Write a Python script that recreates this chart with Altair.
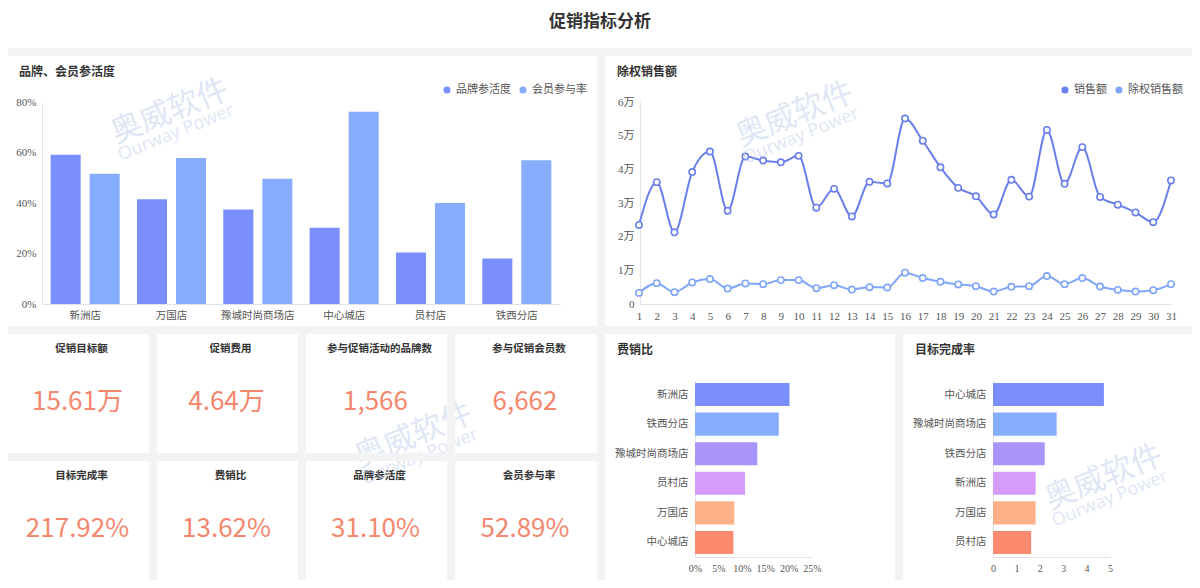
import altair as alt
import pandas as pd

# ---------------- data ----------------
stores = ["新洲店", "万国店", "豫城时尚商场店", "中心城店", "员村店", "铁西分店"]
brand_activity = [0.591, 0.415, 0.374, 0.302, 0.204, 0.180]
member_rate = [0.516, 0.578, 0.496, 0.761, 0.400, 0.569]
bar_series = ["品牌参活度", "会员参与率"]
bar_colors = ["#7a8ffb", "#86adfc"]

days = list(range(1, 32))
sales_wan = [2.35, 3.62, 2.13, 3.92, 4.53, 2.77, 4.38, 4.26, 4.21, 4.40,
             2.86, 3.42, 2.60, 3.63, 3.58, 5.51, 4.85, 4.06, 3.45, 3.20,
             2.66, 3.69, 3.19, 5.17, 3.57, 4.66, 3.18, 2.95, 2.72, 2.43, 3.67]
adj_sales_wan = [0.33, 0.62, 0.35, 0.64, 0.74, 0.46, 0.61, 0.59, 0.71, 0.71,
                 0.47, 0.56, 0.43, 0.50, 0.49, 0.93, 0.77, 0.66, 0.58, 0.53,
                 0.37, 0.51, 0.53, 0.83, 0.59, 0.77, 0.52, 0.42, 0.37, 0.41, 0.59]
line_series = ["销售额", "除权销售额"]
line_colors = ["#6a7fea", "#7fa6f7"]

cost_stores = ["新洲店", "铁西分店", "豫城时尚商场店", "员村店", "万国店", "中心城店"]
cost_ratio = [0.202, 0.179, 0.133, 0.107, 0.084, 0.082]
target_stores = ["中心城店", "豫城时尚商场店", "铁西分店", "新洲店", "万国店", "员村店"]
target_rate = [4.74, 2.72, 2.21, 1.82, 1.82, 1.63]
rank_colors = ["#7b8ffb", "#86adfc", "#a995f9", "#d69cf8", "#fdb189", "#fd8a6f"]

kpi_titles = ["促销目标额", "促销费用", "参与促销活动的品牌数", "参与促销会员数",
              "目标完成率", "费销比", "品牌参活度", "会员参与率"]
kpi_values = ["15.61万", "4.64万", "1,566", "6,662",
              "217.92%", "13.62%", "31.10%", "52.89%"]

main_title = "促销指标分析"
panel_titles = ["品牌、会员参活度", "除权销售额", "费销比", "目标完成率"]
watermark_cn = "奥威软件"
watermark_en = "Ourway Power"

# ---------------- style ----------------
CJK = "'Noto Sans CJK SC', sans-serif"
SERIF = "'Liberation Serif', 'Noto Sans CJK SC', serif"
VALUE_FONT = "'Noto Sans CJK SC', sans-serif"
WM_FONT = "'Open Sans', 'Noto Sans CJK SC', sans-serif"
BG = "#f3f3f3"
LABEL = "#555555"
DOMAIN = "#e0e3e8"
WM_COLOR = "#b9c9ea"

W_L, W_R = 589, 587
H_TOP, H_BOT = 270, 246
W_M, W_RR = 290, 289


def ax(**kw):
    base = dict(title=None, grid=False, ticks=False, domainColor=DOMAIN, domainWidth=1,
                labelColor=LABEL, labelFontSize=11, labelPadding=6)
    base.update(kw)
    return alt.Axis(**base)


def title_layer(text, x=12, y=16):
    return alt.Chart(pd.DataFrame({"t": [text]})).mark_text(
        align="left", baseline="middle", font=CJK, fontSize=12, fontWeight="bold", color="#333333"
    ).encode(x=alt.value(x), y=alt.value(y), text="t:N")


def watermark_layers(cx, cy, ox, oy):
    """Faint rotated watermark; (cx, cy) page position, (ox, oy) panel origin."""
    df = pd.DataFrame({"cn": [watermark_cn], "en": [watermark_en]})
    cn = alt.Chart(df).mark_text(font=CJK, fontSize=31, angle=338, color=WM_COLOR, opacity=0.45,
                                 align="center", baseline="middle", clip=True).encode(
        x=alt.value(cx - ox), y=alt.value(cy - oy), text="cn:N")
    en = alt.Chart(df).mark_text(font=WM_FONT, fontSize=18, angle=338, color=WM_COLOR, opacity=0.45,
                                 align="center", baseline="middle", clip=True).encode(
        x=alt.value(cx + 6 - ox), y=alt.value(cy + 21 - oy), text="en:N")
    return [cn, en]


def legend_layers(names, colors, x_range, y):
    df = pd.DataFrame({"name": names, "c": colors})
    xs = alt.X("name:N", sort=names, scale=alt.Scale(domain=names, range=x_range, padding=0), axis=None)
    dots = alt.Chart(df).mark_circle(size=50, opacity=1).encode(
        x=xs, y=alt.value(y), color=alt.Color("c:N", scale=None))
    labels = alt.Chart(df).mark_text(align="left", baseline="middle", dx=9, font=CJK,
                                     fontSize=11, color=LABEL).encode(
        x=xs, y=alt.value(y), text="name:N")
    return [dots, labels]


# ---- panel 1: grouped bars ----
bar_df = pd.DataFrame({
    "store": stores * 2,
    "series": [bar_series[0]] * len(stores) + [bar_series[1]] * len(stores),
    "value": brand_activity + member_rate,
    "c": [bar_colors[0]] * len(stores) + [bar_colors[1]] * len(stores),
})
bars = alt.Chart(bar_df).mark_bar().encode(
    x=alt.X("store:N", sort=stores,
            scale=alt.Scale(range=[34, 552], paddingInner=0.2, paddingOuter=0.1),
            axis=ax(orient="bottom", offset=-(H_TOP - 248), labelAngle=0, labelFont=CJK,
                    labelFontSize=10.5)),
    xOffset=alt.XOffset("series:N", sort=bar_series,
                        scale=alt.Scale(paddingInner=0.23, paddingOuter=0)),
    y=alt.Y("value:Q", scale=alt.Scale(domain=[0, 0.8], range=[248, 46], nice=False),
            axis=ax(orient="left", offset=-34, values=[0, 0.2, 0.4, 0.6, 0.8], format=".0%",
                    labelFont=SERIF)),
    color=alt.Color("c:N", scale=None),
)
p1 = alt.layer(title_layer(panel_titles[0], x=11), *legend_layers(bar_series, bar_colors, [439, 515], 34),
               bars, *watermark_layers(170, 112, 8, 56)
               ).resolve_scale(x="independent", y="independent").properties(width=W_L, height=H_TOP)

# ---- panel 2: lines ----
line_df = pd.DataFrame({
    "day": days * 2,
    "series": [line_series[0]] * len(days) + [line_series[1]] * len(days),
    "v": sales_wan + adj_sales_wan,
    "c": [line_colors[0]] * len(days) + [line_colors[1]] * len(days),
})
x_line_scale = alt.Scale(type="point", range=[34, 566], padding=0)
y_line_scale = alt.Scale(domain=[0, 6], range=[248, 46], nice=False)
line = alt.Chart(line_df).mark_line(interpolate="monotone", strokeWidth=2).encode(
    x=alt.X("day:O", scale=x_line_scale,
            axis=ax(orient="bottom", offset=-(H_TOP - 248), labelAngle=0, labelFont=SERIF,
                    labelOverlap=False)),
    y=alt.Y("v:Q", scale=y_line_scale,
            axis=ax(orient="left", offset=-35, values=[0, 1, 2, 3, 4, 5, 6], labelFont=SERIF,
                    labelExpr="datum.value == 0 ? '0' : datum.value + '万'")),
    color=alt.Color("c:N", scale=None),
    detail="series:N",
)
pts = alt.Chart(line_df).mark_point(filled=True, fill="white", size=40, strokeWidth=1.6, opacity=1).encode(
    x=alt.X("day:O", scale=x_line_scale, axis=None),
    y=alt.Y("v:Q", scale=y_line_scale, axis=None),
    stroke=alt.Stroke("c:N", scale=None),
)
p2 = alt.layer(title_layer(panel_titles[1]), *legend_layers(line_series, line_colors, [460, 514], 34),
               line, pts, *watermark_layers(795, 115, 605, 56)
               ).resolve_scale(x="independent", y="independent").properties(width=W_R, height=H_TOP)


# ---- panels 3/4: horizontal bars ----
def hbar_panel(names, values, title, domain, ticks, label_expr, width, extra=()):
    df = pd.DataFrame({"s": names, "v": values, "c": rank_colors})
    b = alt.Chart(df).mark_bar().encode(
        y=alt.Y("s:N", sort=names, scale=alt.Scale(range=[46, 223], paddingInner=0.22, paddingOuter=0.1),
                axis=ax(orient="left", offset=-90, labelFont=CJK, labelFontSize=10.5, labelPadding=7)),
        x=alt.X("v:Q", scale=alt.Scale(domain=domain, range=[90, 207], nice=False),
                axis=ax(orient="bottom", offset=-(H_BOT - 223), values=ticks, labelExpr=label_expr,
                        labelFont=SERIF, labelOverlap=False, labelFontSize=10, labelFlush=False)),
        color=alt.Color("c:N", scale=None),
    )
    return alt.layer(title_layer(title), b, *extra).resolve_scale(x="independent", y="independent").properties(
        width=width, height=H_BOT)


p3 = hbar_panel(cost_stores, cost_ratio, panel_titles[2], [0, 0.25], [0, 0.05, 0.1, 0.15, 0.2, 0.25],
                "format(datum.value, '.0%')", W_M)
p4 = hbar_panel(target_stores, target_rate, panel_titles[3], [0, 5], [0, 1, 2, 3, 4, 5],
                "format(datum.value, '.0f')", W_RR,
                extra=watermark_layers(1104, 478, 903, 334))


# ---- KPI cards ----
card_w = [141, 141, 141, 142]
card_x = [8, 157, 306, 455]
card_y = [334, 461]


def kpi_card(idx, h=119):
    col, row = idx % 4, idx // 4
    w = card_w[col]
    df = pd.DataFrame({"t": [kpi_titles[idx]], "v": [kpi_values[idx]]})
    t = alt.Chart(df).mark_text(font=CJK, fontSize=10.5, fontWeight="bold", color="#333333",
                                baseline="middle", align="center").encode(
        x=alt.value(w / 2 + 3), y=alt.value(15), text="t:N")
    v = alt.Chart(df).mark_text(font=VALUE_FONT, fontSize=26, color="#f4876d",
                                baseline="middle", align="center").encode(
        x=alt.value(w / 2 - 1), y=alt.value(68), text="v:N")
    layers = [t, v]
    if col >= 2:
        layers += watermark_layers(414, 436, card_x[col], card_y[row])
    return alt.layer(*layers).properties(width=w, height=h)


row_a = alt.hconcat(*[kpi_card(i) for i in range(4)], spacing=8)
row_b = alt.hconcat(*[kpi_card(i) for i in range(4, 8)], spacing=8)
kpis = alt.vconcat(row_a, row_b, spacing=8)

# ---- main title ----
head = alt.Chart(pd.DataFrame({"t": [main_title]})).mark_text(
    font=CJK, fontSize=17, fontWeight="bold", color="#333333", align="center", baseline="middle"
).encode(x=alt.value(592), y=alt.value(14), text="t:N").properties(width=1184, height=40)

chart = alt.vconcat(
    head,
    alt.hconcat(p1, p2, spacing=8),
    alt.hconcat(kpis, p3, p4, spacing=8),
    spacing=8,
).properties(background=BG, padding=0).configure_view(fill="white", stroke=None)

chart.save("out.html", embed_options={"renderer": "svg", "actions": False})
